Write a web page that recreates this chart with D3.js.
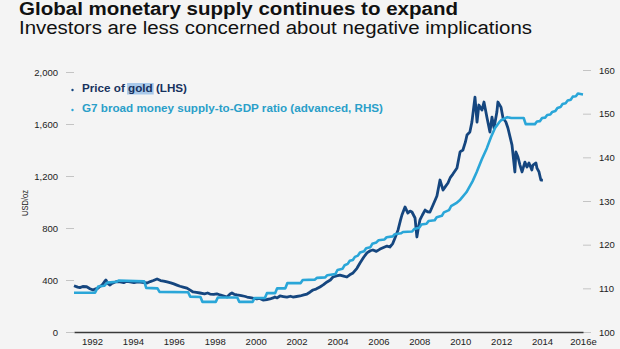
<!DOCTYPE html>
<html>
<head>
<meta charset="utf-8">
<script src="https://cdn.jsdelivr.net/npm/d3@7"></script>
<style>
  html, body { margin: 0; padding: 0; background: #f4f4f4; }
  svg { display: block; font-family: "Liberation Sans", Arial, sans-serif; }
</style>
</head>
<body>
<svg id="chart" width="620" height="349"></svg>
<script>
// ---- data ----
const yearTicks = [1992, 1994, 1996, 1998, 2000, 2002, 2004, 2006, 2008, 2010, 2012, 2014, 2016];
const yearTickLabels = ["1992", "1994", "1996", "1998", "2000", "2002", "2004", "2006", "2008", "2010", "2012", "2014", "2016e"];
const goldTicks = [0, 400, 800, 1200, 1600, 2000];
const ratioTicks = [100, 110, 120, 130, 140, 150, 160];

// Price of gold, USD/oz, [axis year, value]
const goldPrice = [
  [1991.12, 356], [1991.3, 345], [1991.41, 341], [1991.55, 350], [1991.74, 348], [1991.9, 333],
  [1992.05, 323], [1992.18, 332], [1992.29, 338], [1992.4, 352], [1992.49, 361], [1992.6, 385],
  [1992.68, 400], [1992.78, 372], [1992.88, 361], [1992.95, 372], [1993.03, 377], [1993.2, 388],
  [1993.37, 385], [1993.55, 380], [1993.7, 390], [1993.86, 385], [1994.05, 380], [1994.25, 385],
  [1994.45, 382], [1994.69, 377], [1994.85, 388], [1995.0, 396], [1995.18, 408], [1995.35, 396],
  [1995.5, 392], [1995.67, 385], [1995.85, 378], [1996.0, 370], [1996.15, 361], [1996.3, 352],
  [1996.45, 346], [1996.64, 338], [1996.8, 322], [1996.94, 308], [1997.1, 305], [1997.28, 300],
  [1997.5, 294], [1997.65, 300], [1997.77, 292], [1997.95, 290], [1998.1, 294], [1998.26, 285],
  [1998.45, 277], [1998.6, 269], [1998.75, 292], [1998.84, 300], [1998.95, 290], [1999.09, 285],
  [1999.3, 280], [1999.45, 275], [1999.58, 269], [1999.8, 262], [2000.06, 254], [2000.2, 258],
  [2000.36, 246], [2000.55, 250], [2000.7, 254], [2000.85, 262], [2000.94, 269], [2001.05, 262],
  [2001.19, 277], [2001.35, 273], [2001.53, 269], [2001.7, 275], [2001.82, 269], [2002.0, 273],
  [2002.17, 277], [2002.35, 285], [2002.51, 292], [2002.65, 306], [2002.8, 323], [2002.95, 330],
  [2003.14, 346], [2003.3, 362], [2003.49, 385], [2003.65, 400], [2003.78, 423], [2003.95, 431],
  [2004.12, 438], [2004.3, 430], [2004.46, 423], [2004.6, 440], [2004.76, 454], [2004.95, 490],
  [2005.1, 531], [2005.28, 575], [2005.44, 608], [2005.6, 625], [2005.73, 631], [2005.9, 620],
  [2006.08, 638], [2006.25, 650], [2006.42, 661], [2006.56, 654], [2006.7, 680], [2006.81, 723],
  [2006.96, 785], [2007.08, 860], [2007.15, 900], [2007.3, 962], [2007.44, 915], [2007.55, 930],
  [2007.64, 923], [2007.79, 877], [2007.88, 731], [2007.95, 800], [2008.03, 862], [2008.15, 900],
  [2008.28, 938], [2008.4, 925], [2008.52, 923], [2008.67, 977], [2008.86, 1046], [2009.01, 1169],
  [2009.16, 1092], [2009.28, 1120], [2009.4, 1146], [2009.52, 1190], [2009.64, 1215], [2009.84, 1261],
  [2009.99, 1385], [2010.13, 1400], [2010.25, 1460], [2010.33, 1515], [2010.47, 1538], [2010.57, 1615],
  [2010.72, 1807], [2010.82, 1615], [2010.91, 1746], [2011.06, 1707], [2011.16, 1769], [2011.31, 1646],
  [2011.45, 1538], [2011.55, 1653], [2011.65, 1569], [2011.79, 1692], [2011.84, 1769], [2011.99, 1730],
  [2012.09, 1646], [2012.23, 1615], [2012.33, 1569], [2012.53, 1438], [2012.67, 1231], [2012.72, 1385],
  [2012.82, 1346], [2012.92, 1284], [2013.02, 1231], [2013.16, 1307], [2013.26, 1269], [2013.36, 1300],
  [2013.5, 1246], [2013.55, 1284], [2013.7, 1300], [2013.75, 1261], [2013.85, 1231], [2013.94, 1169],
  [2014.04, 1169]
];

// G7 broad money supply-to-GDP ratio, [axis year, value]
const moneyRatio = [
  [1991.12, 109.0], [1992.15, 109.0], [1992.3, 110.4], [1992.6, 110.6], [1992.75, 111.3], [1993.2, 111.5],
  [1993.3, 111.8], [1994.55, 111.6], [1994.65, 110.1], [1995.2, 110.0], [1995.3, 109.2], [1996.7, 109.1],
  [1996.8, 108.1], [1997.3, 108.0], [1997.4, 106.9], [1998.05, 106.9], [1998.15, 107.9], [1999.1, 107.9],
  [1999.2, 106.9], [1999.85, 106.9], [1999.95, 107.8], [2000.45, 107.8], [2000.55, 108.9], [2000.95, 108.9],
  [2001.05, 110.0], [2001.45, 110.0], [2001.55, 111.2], [2002.2, 111.2], [2002.3, 111.9], [2002.9, 112.0],
  [2003.0, 112.4], [2003.4, 112.5], [2003.5, 113.0], [2003.9, 113.3], [2004.0, 114.2], [2004.25, 114.5],
  [2004.35, 115.3], [2004.5, 115.6], [2004.6, 116.3], [2004.75, 116.5], [2004.85, 117.2], [2005.0, 117.5],
  [2005.1, 118.2], [2005.3, 118.5], [2005.4, 119.2], [2005.6, 119.4], [2005.7, 120.2], [2005.9, 120.5],
  [2006.0, 121.0], [2006.3, 121.2], [2006.4, 121.7], [2006.7, 121.9], [2006.8, 122.4], [2007.1, 122.6],
  [2007.2, 122.9], [2007.65, 123.0], [2007.75, 123.6], [2008.0, 123.9], [2008.1, 124.6], [2008.35, 124.8],
  [2008.45, 125.4], [2008.75, 125.6], [2008.85, 126.3], [2009.1, 126.6], [2009.2, 127.4], [2009.45, 127.9],
  [2009.55, 128.8], [2009.8, 129.5], [2010.0, 130.3], [2010.3, 132.0], [2010.6, 134.5], [2010.8, 136.6],
  [2011.05, 139.5], [2011.3, 142.1], [2011.5, 144.6], [2011.7, 146.7], [2011.9, 148.0], [2012.0, 148.5],
  [2012.3, 149.2], [2012.5, 149.0], [2013.1, 149.0], [2013.2, 147.6], [2013.65, 147.6], [2013.75, 148.2],
  [2013.9, 148.3], [2014.0, 149.0], [2014.15, 149.1], [2014.25, 149.7], [2014.4, 149.8], [2014.5, 150.4],
  [2014.65, 150.6], [2014.75, 151.3], [2014.9, 151.5], [2015.0, 152.2], [2015.15, 152.4], [2015.25, 153.0],
  [2015.4, 153.2], [2015.5, 153.9], [2015.65, 154.0], [2015.75, 154.6], [2016.0, 154.4]
];

const titleText = "Global monetary supply continues to expand";
const subtitleText = "Investors are less concerned about negative implications";
const goldLabel = ["Price of ", "gold", " (LHS)"];
const moneyLabel = "G7 broad money supply-to-GDP ratio (advanced, RHS)";
const leftAxisTitle = "USD/oz";

// ---- styles ----
const GOLD_COLOR = "#15467f";
const MONEY_COLOR = "#2aa6d8";
const TEXT_COLOR = "#222";

const svg = d3.select("#chart");

const x = d3.scaleLinear().domain([1991.12, 2016]).range([74, 583]);
const yGold = d3.scaleLinear().domain([0, 2000]).range([332, 72]);
const yMoney = d3.scaleLinear().domain([100, 160]).range([332, 70]);

// headings
svg.append("text").attr("x", 19).attr("y", 14.5)
  .attr("font-size", 17.5).attr("font-weight", "bold").attr("fill", "#111")
  .attr("textLength", 439).attr("lengthAdjust", "spacingAndGlyphs")
  .text(titleText);
svg.append("text").attr("x", 19).attr("y", 33.5)
  .attr("font-size", 18).attr("fill", "#111")
  .attr("textLength", 513).attr("lengthAdjust", "spacingAndGlyphs")
  .text(subtitleText);

// left axis
const leftAxis = svg.append("g").attr("transform", "translate(74,0)")
  .call(d3.axisLeft(yGold).tickValues(goldTicks).tickFormat(d3.format(",")).tickSize(8).tickPadding(8));
leftAxis.select(".domain").remove();
leftAxis.selectAll(".tick line").attr("stroke", "#c4c4c4");
leftAxis.selectAll(".tick text").attr("font-size", 9.5).attr("fill", TEXT_COLOR).attr("font-family", null);

// right axis
const rightAxis = svg.append("g").attr("transform", "translate(583,0)")
  .call(d3.axisRight(yMoney).tickValues(ratioTicks).tickSize(8).tickPadding(8));
rightAxis.select(".domain").remove();
rightAxis.selectAll(".tick line").attr("stroke", "#c4c4c4");
rightAxis.selectAll(".tick text").attr("font-size", 9.5).attr("fill", TEXT_COLOR).attr("font-family", null);

// bottom axis with baseline
const bottomAxis = svg.append("g").attr("transform", "translate(0,332)")
  .call(d3.axisBottom(x).tickValues(yearTicks)
    .tickFormat((d, i) => yearTickLabels[i]).tickSizeInner(0).tickSizeOuter(0).tickPadding(6));
bottomAxis.select(".domain").attr("stroke", "#3a3a3a").attr("stroke-width", 1.6);
bottomAxis.selectAll(".tick text").attr("font-size", 9.5).attr("fill", TEXT_COLOR).attr("font-family", null);

// left axis title
svg.append("text")
  .attr("transform", "translate(28,203) rotate(-90)")
  .attr("text-anchor", "middle").attr("font-size", 9).attr("fill", TEXT_COLOR)
  .attr("textLength", 26).attr("lengthAdjust", "spacingAndGlyphs")
  .text(leftAxisTitle);

// series
const goldLine = d3.line().x(d => x(d[0])).y(d => yGold(d[1])).curve(d3.curveLinear);
const moneyLine = d3.line().x(d => x(d[0])).y(d => yMoney(d[1])).curve(d3.curveLinear);

svg.append("path").datum(goldPrice)
  .attr("d", goldLine).attr("fill", "none").attr("stroke", GOLD_COLOR)
  .attr("stroke-width", 2.8).attr("stroke-linejoin", "round");
svg.append("path").datum(moneyRatio)
  .attr("d", moneyLine).attr("fill", "none").attr("stroke", MONEY_COLOR)
  .attr("stroke-width", 2.6).attr("stroke-linejoin", "round");

// legend
const legend = svg.append("g");
legend.append("circle").attr("cx", 72.5).attr("cy", 90).attr("r", 1.2).attr("fill", GOLD_COLOR);
legend.append("circle").attr("cx", 72.5).attr("cy", 110).attr("r", 1.2).attr("fill", MONEY_COLOR);

const hl = legend.append("rect").attr("fill", "#a9c9ea");
const goldText = legend.append("text").attr("x", 82).attr("y", 92)
  .attr("font-size", 11.5).attr("font-weight", "bold").attr("fill", "#17325e")
  .attr("textLength", 105).attr("lengthAdjust", "spacingAndGlyphs");
goldText.selectAll("tspan").data(goldLabel).join("tspan").text(d => d);
const node = goldText.node();
const start = goldLabel[0].length;
const end = start + goldLabel[1].length - 1;
const hx0 = node.getStartPositionOfChar(start).x;
const hx1 = node.getEndPositionOfChar(end).x;
hl.attr("x", hx0 - 1).attr("y", 83).attr("width", hx1 - hx0 + 2).attr("height", 11.5);

legend.append("text").attr("x", 82).attr("y", 111.5)
  .attr("font-size", 11.5).attr("font-weight", "bold").attr("fill", "#2a9fc9")
  .attr("textLength", 301).attr("lengthAdjust", "spacingAndGlyphs")
  .text(moneyLabel);
</script>
</body>
</html>
